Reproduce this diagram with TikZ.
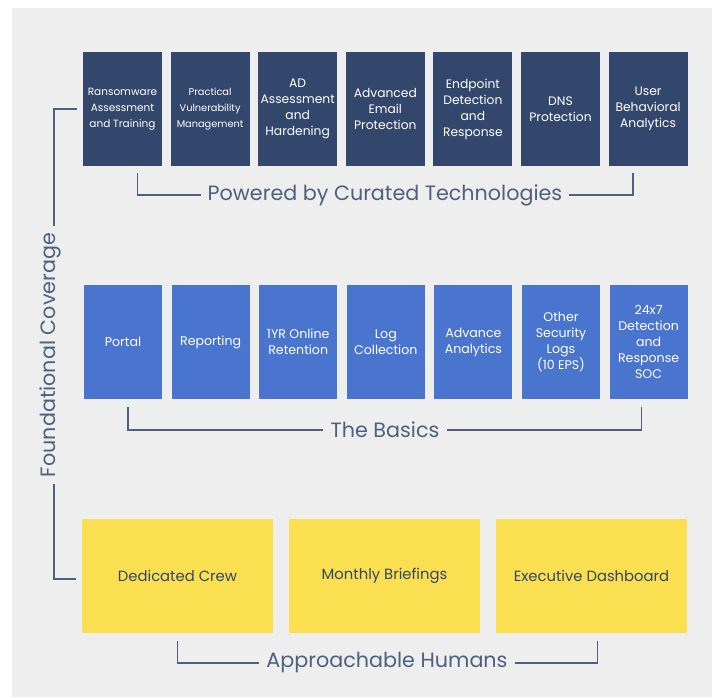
\documentclass[tikz,border=0pt]{standalone}
\usepackage{fontspec}
\setmainfont{Poppins}
\usetikzlibrary{positioning}

\definecolor{pagebg}{HTML}{EEEEEE}
\definecolor{navy}{HTML}{33466B}
\definecolor{basicblue}{HTML}{4A75CF}
\definecolor{crewyellow}{HTML}{FADF50}
\definecolor{linegray}{HTML}{4E6080}

\tikzset{
  cell/.style={minimum height=114pt, inner sep=1pt, align=center, anchor=center},
  techbox/.style={cell, fill=navy, text=white, minimum width=79pt,
    font=\fontsize{12.3}{16}\selectfont},
  basicbox/.style={cell, fill=basicblue, text=white, minimum width=78pt,
    font=\fontsize{12.6}{16}\selectfont},
  humanbox/.style={cell, fill=crewyellow, text=navy, minimum width=191pt,
    font=\fontsize{14.8}{18}\selectfont},
  tagline/.style={text=linegray, inner sep=7pt, font=\fontsize{20.7}{24}\selectfont},
  bracket/.style={draw=linegray, line width=1.4pt}
}
\newcommand{\smalltech}{\fontsize{10.5}{13}\selectfont}
\newcommand{\tinytech}{\fontsize{9.8}{12.5}\selectfont}

\begin{document}
\begin{tikzpicture}[x=1pt,y=-1pt,node distance=87.6pt,on grid]
  \useasboundingbox (0,0) rectangle (715,698);
  \fill[pagebg] (12,8) rectangle (712,697);

  % curated technologies
  \node[techbox] (t1) at (122.5,109) {\smalltech Ransomware\\\smalltech Assessment\\\smalltech and Training};
  \node[techbox] (t2) [right=of t1] {\tinytech Practical\\\tinytech Vulnerability\\\tinytech Management};
  \node[techbox] (t3) [right=of t2] {AD\\Assessment\\and\\Hardening};
  \node[techbox] (t4) [right=of t3] {Advanced\\Email\\Protection};
  \node[techbox] (t5) [right=of t4] {Endpoint\\Detection\\and\\Response};
  \node[techbox] (t6) [right=of t5] {DNS\\Protection};
  \node[techbox] (t7) [right=of t6] {User\\Behavioral\\Analytics};
  \node[tagline] (powered) at (385,195) {Powered by Curated Technologies};
  \draw[bracket] ([xshift=15pt,yshift=-7pt]t1.south) |- (powered.west);
  \draw[bracket] ([xshift=-15pt,yshift=-7pt]t7.south) |- (powered.east);

  % the basics
  \node[basicbox] (b1) at (123,342) {Portal};
  \node[basicbox] (b2) [right=of b1] {Reporting};
  \node[basicbox] (b3) [right=of b2] {1YR Online\\Retention};
  \node[basicbox] (b4) [right=of b3] {Log\\Collection};
  \node[basicbox] (b5) [right=of b4] {Advance\\Analytics};
  \node[basicbox] (b6) [right=of b5] {Other\\Security\\Logs\\(10 EPS)};
  \node[basicbox] (b7) [right=of b6] {24x7\\Detection\\and\\Response\\SOC};
  \node[tagline] (basics) at (385,430) {The Basics};
  \draw[bracket] ([xshift=5pt,yshift=-8pt]b1.south) |- (basics.west);
  \draw[bracket] ([xshift=-7pt,yshift=-8pt]b7.south) |- (basics.east);

  % approachable humans
  \node[humanbox] (h1) at (177.5,576) {Dedicated Crew};
  \node[humanbox] (h2) [right=207pt of h1] {Monthly Briefings};
  \node[humanbox] (h3) [right=207pt of h2] {Executive Dashboard};
  \node[tagline] (humans) at (387,663) {Approachable Humans};
  \draw[bracket] ([yshift=-8pt]h1.south) |- (humans.west);
  \draw[bracket] ([xshift=6pt,yshift=-8pt]h3.south) |- (humans.east);

  % foundational coverage
  \node[tagline, rotate=90] (found) at (50,355) {Foundational Coverage};
  \draw[bracket] ([xshift=-6pt]t1.west) -| ([xshift=4pt]found.east);
  \draw[bracket] ([xshift=4pt]found.west) |- ([xshift=-6pt,yshift=-3pt]h1.west);
\end{tikzpicture}
\end{document}
